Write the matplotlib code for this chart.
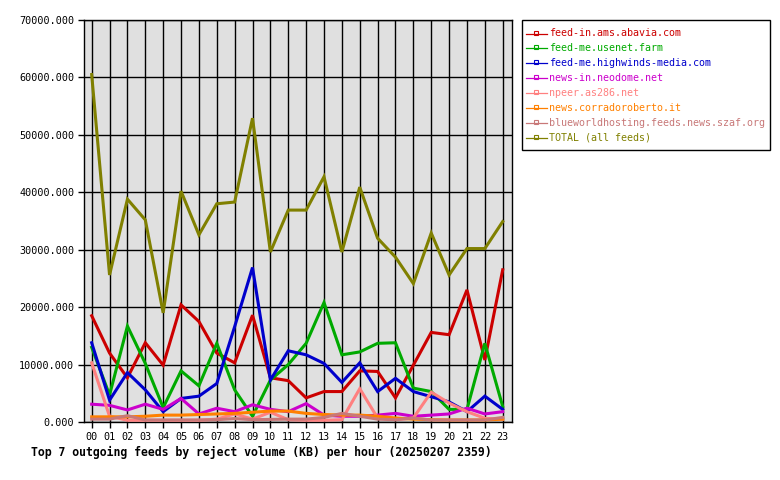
import matplotlib

matplotlib.use("Agg")
import matplotlib.pyplot as plt
from matplotlib.lines import Line2D
from matplotlib.patches import Rectangle

hours = [f"{h:02d}" for h in range(24)]

feed_names = [
    "feed-in.ams.abavia.com",
    "feed-me.usenet.farm",
    "feed-me.highwinds-media.com",
    "news-in.neodome.net",
    "npeer.as286.net",
    "news.corradoroberto.it",
    "blueworldhosting.feeds.news.szaf.org",
    "TOTAL (all feeds)",
]
feed_colors = ["#cc0000", "#00aa00", "#0000cc", "#cc00cc",
               "#ff8080", "#ff8000", "#c87878", "#808000"]

abavia = [18500, 12000, 7700, 13800, 9900, 20400, 17500, 12000, 10300, 18600, 7700, 7200,
          4200, 5300, 5300, 8900, 8800, 4200, 9900, 15600, 15200, 23000, 10800, 26500]
usenet_farm = [13000, 4700, 16700, 10200, 2500, 8900, 6300, 13700, 5600, 1000, 7300, 10000,
               13700, 20800, 11700, 12200, 13700, 13800, 5900, 5300, 2200, 2200, 13700, 2700]
highwinds = [13800, 3800, 8600, 5600, 1800, 4100, 4500, 6700, 16600, 26900, 7300, 12400,
             11700, 10200, 6900, 10300, 5300, 7600, 5300, 4400, 3500, 1800, 4500, 2200]
neodome = [3100, 2900, 2100, 3100, 2200, 4100, 1400, 2400, 1800, 3000, 2200, 1800,
           3200, 1200, 1000, 1000, 1200, 1500, 1000, 1200, 1400, 2400, 1400, 1800]
as286 = [10300, 1000, 300, 300, 300, 300, 300, 500, 1400, 500, 1700, 400,
         300, 300, 400, 5800, 700, 400, 700, 5200, 3300, 1800, 640, 470]
corradoroberto = [900, 900, 900, 1000, 1200, 1200, 1300, 1400, 1500, 1700, 1900, 1900,
                  1500, 1300, 1200, 1200, 1000, 700, 500, 400, 350, 350, 350, 500]
blueworld = [500, 500, 1100, 350, 350, 350, 350, 400, 600, 400, 450, 500,
             500, 800, 1500, 1000, 500, 400, 700, 350, 350, 350, 350, 800]
total = [60500, 25600, 38800, 35200, 19000, 40200, 32600, 38000, 38300, 52900, 29600, 36900,
         36900, 42700, 29600, 40900, 32000, 28700, 24100, 32900, 25600, 30200, 30200, 34900]

series = [abavia, usenet_farm, highwinds, neodome, as286, corradoroberto, blueworld, total]
y_ticks = list(range(0, 70001, 10000))

mono = "DejaVu Sans Mono"
W, H = 780, 480
fig = plt.figure(figsize=(W / 100, H / 100), dpi=100)
ax = fig.add_axes([84 / W, 1 - 422 / H, (512 - 84) / W, (422 - 20) / H])
ax.set_facecolor("#e0e0e0")

x = list(range(24))
for values, color in zip(series, feed_colors):
    ax.plot(x, values, color=color, linewidth=2.2, solid_joinstyle="miter", zorder=3)

ax.set_xlim(-0.43, 23.52)
ax.set_ylim(0, 70000)
ax.set_xticks(x)
ax.set_xticklabels(hours, fontfamily=mono, fontsize=7.3)
ax.set_yticks(y_ticks)
ax.set_yticklabels([f"{v}.000" for v in y_ticks], fontfamily=mono, fontsize=7.3)
ax.tick_params(direction="out", length=4, width=1, color="black", pad=3)
ax.grid(True, color="black", linewidth=1.0, zorder=1)
ax.set_axisbelow(True)
for spine in ax.spines.values():
    spine.set_linewidth(1.0)

fig.text(31 / W, 1 - 452 / H, "Top 7 outgoing feeds by reject volume (KB) per hour (20250207 2359)",
         fontfamily=mono, fontsize=8.3, fontweight="bold", va="center", ha="left")

# legend box drawn by hand, in pixel positions of the figure
def fx(px):
    return px / W


def fy(py):
    return 1 - py / H


fig.patches.append(Rectangle((fx(522), fy(150)), fx(770) - fx(522), fy(20) - fy(150),
                             transform=fig.transFigure, facecolor="white",
                             edgecolor="black", linewidth=1.0))
for i, (name, color) in enumerate(zip(feed_names, feed_colors)):
    row_y = 33.5 + i * 14.9
    fig.lines.append(Line2D([fx(526), fx(547)], [fy(row_y), fy(row_y)],
                            transform=fig.transFigure, color=color, linewidth=0.9))
    fig.lines.append(Line2D([fx(536)], [fy(row_y - 1)], transform=fig.transFigure,
                            color=color, marker="s", markersize=2.3,
                            markerfacecolor="none", markeredgewidth=0.8))
    fig.text(fx(549), fy(row_y), name, color=color, fontfamily=mono, fontsize=7.2,
             va="center", ha="left")

fig.savefig("out.png", dpi=100)
